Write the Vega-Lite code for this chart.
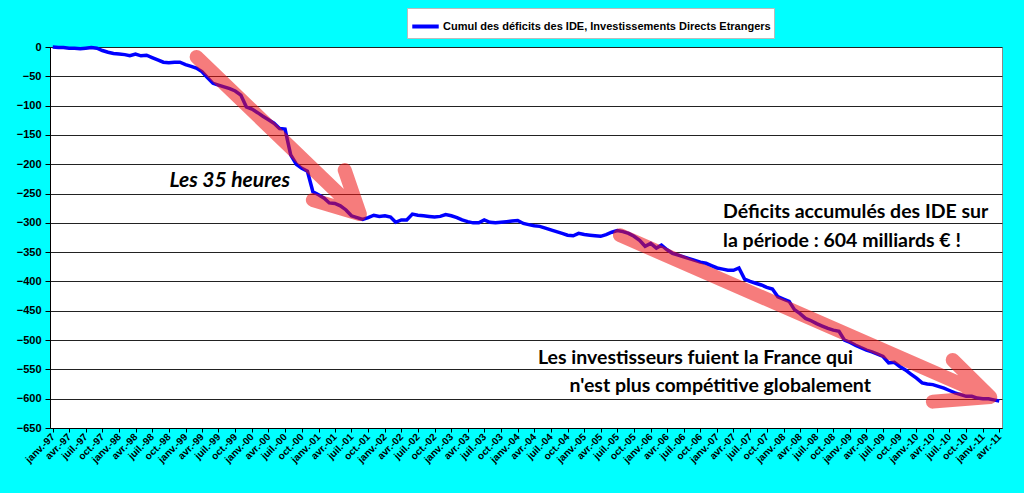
{
  "$schema": "https://vega.github.io/schema/vega-lite/v6.json",
  "background": "#00ffff",
  "autosize": "none",
  "width": 952,
  "height": 381,
  "padding": {"left": 50, "top": 47, "right": 22, "bottom": 65},
  "config": {
    "view": {"fill": "white", "stroke": "#888888"},
    "font": "Liberation Sans"
  },
  "datasets": {
    "ide": [
      {"mois": "1997-01-01", "cumul": 0}, {"mois": "1997-02-01", "cumul": -1}, {"mois": "1997-03-01", "cumul": -1}, {"mois": "1997-04-01", "cumul": -2},
      {"mois": "1997-05-01", "cumul": -2}, {"mois": "1997-06-01", "cumul": -3}, {"mois": "1997-07-01", "cumul": -2}, {"mois": "1997-08-01", "cumul": -1},
      {"mois": "1997-09-01", "cumul": -2}, {"mois": "1997-10-01", "cumul": -6}, {"mois": "1997-11-01", "cumul": -9}, {"mois": "1997-12-01", "cumul": -11},
      {"mois": "1998-01-01", "cumul": -12}, {"mois": "1998-02-01", "cumul": -13}, {"mois": "1998-03-01", "cumul": -15}, {"mois": "1998-04-01", "cumul": -12},
      {"mois": "1998-05-01", "cumul": -15}, {"mois": "1998-06-01", "cumul": -14}, {"mois": "1998-07-01", "cumul": -18}, {"mois": "1998-08-01", "cumul": -22},
      {"mois": "1998-09-01", "cumul": -26}, {"mois": "1998-10-01", "cumul": -27}, {"mois": "1998-11-01", "cumul": -26}, {"mois": "1998-12-01", "cumul": -26},
      {"mois": "1999-01-01", "cumul": -30}, {"mois": "1999-02-01", "cumul": -33}, {"mois": "1999-03-01", "cumul": -36}, {"mois": "1999-04-01", "cumul": -42},
      {"mois": "1999-05-01", "cumul": -52}, {"mois": "1999-06-01", "cumul": -62}, {"mois": "1999-07-01", "cumul": -65}, {"mois": "1999-08-01", "cumul": -68},
      {"mois": "1999-09-01", "cumul": -71}, {"mois": "1999-10-01", "cumul": -75}, {"mois": "1999-11-01", "cumul": -82}, {"mois": "1999-12-01", "cumul": -102},
      {"mois": "2000-01-01", "cumul": -106}, {"mois": "2000-02-01", "cumul": -112}, {"mois": "2000-03-01", "cumul": -118}, {"mois": "2000-04-01", "cumul": -124},
      {"mois": "2000-05-01", "cumul": -130}, {"mois": "2000-06-01", "cumul": -139}, {"mois": "2000-07-01", "cumul": -140}, {"mois": "2000-08-01", "cumul": -184},
      {"mois": "2000-09-01", "cumul": -200}, {"mois": "2000-10-01", "cumul": -207}, {"mois": "2000-11-01", "cumul": -212}, {"mois": "2000-12-01", "cumul": -247},
      {"mois": "2001-01-01", "cumul": -252}, {"mois": "2001-02-01", "cumul": -258}, {"mois": "2001-03-01", "cumul": -266}, {"mois": "2001-04-01", "cumul": -267},
      {"mois": "2001-05-01", "cumul": -271}, {"mois": "2001-06-01", "cumul": -278}, {"mois": "2001-07-01", "cumul": -288}, {"mois": "2001-08-01", "cumul": -291},
      {"mois": "2001-09-01", "cumul": -294}, {"mois": "2001-10-01", "cumul": -291}, {"mois": "2001-11-01", "cumul": -287}, {"mois": "2001-12-01", "cumul": -289},
      {"mois": "2002-01-01", "cumul": -288}, {"mois": "2002-02-01", "cumul": -290}, {"mois": "2002-03-01", "cumul": -299}, {"mois": "2002-04-01", "cumul": -295},
      {"mois": "2002-05-01", "cumul": -295}, {"mois": "2002-06-01", "cumul": -285}, {"mois": "2002-07-01", "cumul": -287}, {"mois": "2002-08-01", "cumul": -288},
      {"mois": "2002-09-01", "cumul": -289}, {"mois": "2002-10-01", "cumul": -290}, {"mois": "2002-11-01", "cumul": -289}, {"mois": "2002-12-01", "cumul": -286},
      {"mois": "2003-01-01", "cumul": -288}, {"mois": "2003-02-01", "cumul": -291}, {"mois": "2003-03-01", "cumul": -295}, {"mois": "2003-04-01", "cumul": -298},
      {"mois": "2003-05-01", "cumul": -300}, {"mois": "2003-06-01", "cumul": -300}, {"mois": "2003-07-01", "cumul": -295}, {"mois": "2003-08-01", "cumul": -299},
      {"mois": "2003-09-01", "cumul": -300}, {"mois": "2003-10-01", "cumul": -299}, {"mois": "2003-11-01", "cumul": -298}, {"mois": "2003-12-01", "cumul": -297},
      {"mois": "2004-01-01", "cumul": -296}, {"mois": "2004-02-01", "cumul": -301}, {"mois": "2004-03-01", "cumul": -303}, {"mois": "2004-04-01", "cumul": -305},
      {"mois": "2004-05-01", "cumul": -306}, {"mois": "2004-06-01", "cumul": -309}, {"mois": "2004-07-01", "cumul": -312}, {"mois": "2004-08-01", "cumul": -315},
      {"mois": "2004-09-01", "cumul": -318}, {"mois": "2004-10-01", "cumul": -321}, {"mois": "2004-11-01", "cumul": -322}, {"mois": "2004-12-01", "cumul": -318},
      {"mois": "2005-01-01", "cumul": -320}, {"mois": "2005-02-01", "cumul": -321}, {"mois": "2005-03-01", "cumul": -322}, {"mois": "2005-04-01", "cumul": -323},
      {"mois": "2005-05-01", "cumul": -320}, {"mois": "2005-06-01", "cumul": -316}, {"mois": "2005-07-01", "cumul": -313}, {"mois": "2005-08-01", "cumul": -315},
      {"mois": "2005-09-01", "cumul": -318}, {"mois": "2005-10-01", "cumul": -323}, {"mois": "2005-11-01", "cumul": -330}, {"mois": "2005-12-01", "cumul": -340},
      {"mois": "2006-01-01", "cumul": -335}, {"mois": "2006-02-01", "cumul": -343}, {"mois": "2006-03-01", "cumul": -338}, {"mois": "2006-04-01", "cumul": -346},
      {"mois": "2006-05-01", "cumul": -352}, {"mois": "2006-06-01", "cumul": -355}, {"mois": "2006-07-01", "cumul": -358}, {"mois": "2006-08-01", "cumul": -361},
      {"mois": "2006-09-01", "cumul": -364}, {"mois": "2006-10-01", "cumul": -367}, {"mois": "2006-11-01", "cumul": -369}, {"mois": "2006-12-01", "cumul": -373},
      {"mois": "2007-01-01", "cumul": -377}, {"mois": "2007-02-01", "cumul": -379}, {"mois": "2007-03-01", "cumul": -381}, {"mois": "2007-04-01", "cumul": -381},
      {"mois": "2007-05-01", "cumul": -377}, {"mois": "2007-06-01", "cumul": -396}, {"mois": "2007-07-01", "cumul": -400}, {"mois": "2007-08-01", "cumul": -403},
      {"mois": "2007-09-01", "cumul": -406}, {"mois": "2007-10-01", "cumul": -410}, {"mois": "2007-11-01", "cumul": -413}, {"mois": "2007-12-01", "cumul": -426},
      {"mois": "2008-01-01", "cumul": -430}, {"mois": "2008-02-01", "cumul": -434}, {"mois": "2008-03-01", "cumul": -448}, {"mois": "2008-04-01", "cumul": -455},
      {"mois": "2008-05-01", "cumul": -463}, {"mois": "2008-06-01", "cumul": -467}, {"mois": "2008-07-01", "cumul": -472}, {"mois": "2008-08-01", "cumul": -476},
      {"mois": "2008-09-01", "cumul": -480}, {"mois": "2008-10-01", "cumul": -483}, {"mois": "2008-11-01", "cumul": -485}, {"mois": "2008-12-01", "cumul": -500},
      {"mois": "2009-01-01", "cumul": -504}, {"mois": "2009-02-01", "cumul": -509}, {"mois": "2009-03-01", "cumul": -513}, {"mois": "2009-04-01", "cumul": -517},
      {"mois": "2009-05-01", "cumul": -520}, {"mois": "2009-06-01", "cumul": -524}, {"mois": "2009-07-01", "cumul": -528}, {"mois": "2009-08-01", "cumul": -539},
      {"mois": "2009-09-01", "cumul": -538}, {"mois": "2009-10-01", "cumul": -545}, {"mois": "2009-11-01", "cumul": -551}, {"mois": "2009-12-01", "cumul": -558},
      {"mois": "2010-01-01", "cumul": -565}, {"mois": "2010-02-01", "cumul": -573}, {"mois": "2010-03-01", "cumul": -575}, {"mois": "2010-04-01", "cumul": -576},
      {"mois": "2010-05-01", "cumul": -579}, {"mois": "2010-06-01", "cumul": -582}, {"mois": "2010-07-01", "cumul": -586}, {"mois": "2010-08-01", "cumul": -590},
      {"mois": "2010-09-01", "cumul": -593}, {"mois": "2010-10-01", "cumul": -596}, {"mois": "2010-11-01", "cumul": -596}, {"mois": "2010-12-01", "cumul": -599},
      {"mois": "2011-01-01", "cumul": -600}, {"mois": "2011-02-01", "cumul": -600}, {"mois": "2011-03-01", "cumul": -602}, {"mois": "2011-04-01", "cumul": -604}
    ],
    "fleches": [
      {"fleche": "a1", "rang": 1, "mois": "1999-03-03", "cumul": -17},
      {"fleche": "a1", "rang": 2, "mois": "2001-08-16", "cumul": -285},
      {"fleche": "a1", "rang": 3, "mois": "2001-05-25", "cumul": -210},
      {"fleche": "a1", "rang": 4, "mois": "2001-08-16", "cumul": -285},
      {"fleche": "a1", "rang": 5, "mois": "2000-12-01", "cumul": -261},
      {"fleche": "a2", "rang": 1, "mois": "2005-07-16", "cumul": -321},
      {"fleche": "a2", "rang": 2, "mois": "2011-02-10", "cumul": -597},
      {"fleche": "a2", "rang": 3, "mois": "2010-07-19", "cumul": -534},
      {"fleche": "a2", "rang": 4, "mois": "2011-02-10", "cumul": -597},
      {"fleche": "a2", "rang": 5, "mois": "2010-04-01", "cumul": -605}
    ],
    "notes": [
      {"texte": "Déficits accumulés des IDE sur", "mois": "2007-02-03", "cumul": -281},
      {"texte": "la période : 604 milliards € !", "mois": "2007-02-03", "cumul": -331},
      {"texte": "Les investisseurs fuient la France qui", "mois": "2004-04-21", "cumul": -530},
      {"texte": "n'est plus compétitive globalement", "mois": "2004-10-12", "cumul": -578}
    ]
  },
  "encoding": {
    "x": {
      "field": "mois",
      "type": "temporal",
      "scale": {"type": "utc", "domain": ["1996-12-17", "2011-04-16"]},
      "axis": {
        "title": null,
        "grid": false,
        "tickCount": {"interval": "month", "step": 3},
        "labelExpr": "['janv.','févr.','mars','avr.','mai','juin','juil.','août','sept.','oct.','nov.','déc.'][utcmonth(datum.value)] + '-' + utcFormat(datum.value, '%y')",
        "labelAngle": -45,
        "labelAlign": "right",
        "labelBaseline": "middle",
        "labelOverlap": false,
        "labelFlush": false,
        "labelBound": false,
        "labelFont": "Liberation Sans",
        "labelFontSize": 10,
        "labelFontWeight": "bold",
        "labelColor": "black",
        "labelPadding": 3,
        "domainColor": "black",
        "tickColor": "black",
        "tickSize": 4
      }
    },
    "y": {
      "field": "cumul",
      "type": "quantitative",
      "scale": {"domain": [-650, 0], "nice": false},
      "axis": {
        "title": null,
        "values": [0, -50, -100, -150, -200, -250, -300, -350, -400, -450, -500, -550, -600, -650],
        "format": "d",
        "labelFont": "Liberation Sans",
        "labelFontSize": 11,
        "labelFontWeight": "bold",
        "labelColor": "black",
        "labelPadding": 4,
        "domainColor": "black",
        "tickColor": "black",
        "tickSize": 5,
        "gridColor": "#222222",
        "gridWidth": 1
      }
    }
  },
  "layer": [
    {
      "data": {"name": "ide"},
      "mark": {"type": "line", "strokeWidth": 3.5},
      "encoding": {
        "color": {
          "datum": "Cumul des déficits des IDE, Investissements Directs Etrangers",
          "type": "nominal",
          "scale": {"range": ["#0000ff"]},
          "legend": {
            "title": null,
            "orient": "none",
            "legendX": 357,
            "legendY": -39,
            "fillColor": "white",
            "strokeColor": "#bbbbbb",
            "padding": 3,
            "symbolType": "stroke",
            "symbolStrokeWidth": 4,
            "symbolSize": 700,
            "labelOffset": 2,
            "labelFont": "Liberation Sans",
            "labelFontSize": 11,
            "labelFontWeight": "bold",
            "labelColor": "black",
            "labelLimit": 0
          }
        }
      }
    },
    {
      "data": {"name": "fleches"},
      "mark": {"type": "line", "strokeWidth": 14, "strokeCap": "round", "strokeJoin": "round", "color": "#ee1111", "opacity": 0.55},
      "encoding": {
        "detail": {"field": "fleche", "type": "nominal"},
        "order": {"field": "rang", "type": "quantitative"}
      }
    },
    {
      "data": {"values": [{"texte": "Les 35 heures", "mois": "1999-09-01", "cumul": -228}]},
      "mark": {"type": "text", "font": "Lato", "fontSize": 21, "fontWeight": "bold", "fontStyle": "italic", "align": "center", "baseline": "middle", "color": "black"},
      "encoding": {"text": {"field": "texte"}}
    },
    {
      "data": {"name": "notes"},
      "mark": {"type": "text", "font": "Lato", "fontSize": 19.5, "fontWeight": "bold", "align": "left", "baseline": "middle", "color": "black"},
      "encoding": {"text": {"field": "texte"}}
    }
  ]
}
